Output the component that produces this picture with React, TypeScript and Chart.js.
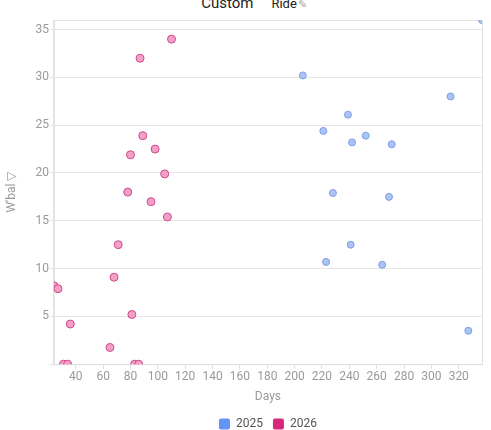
import React, { useEffect, useRef } from "react";
import { Chart, registerables } from "chart.js";

Chart.register(...registerables);

// 2025 series: days vs W'bal
const days2025 = [206, 314, 239, 221, 252, 242, 271, 228, 269, 241, 223, 264, 327, 337];
const wbal2025 = [30.2, 28.0, 26.1, 24.4, 23.9, 23.2, 23.0, 17.9, 17.5, 12.5, 10.7, 10.4, 3.5, 36.0];

// 2026 series
const days2026 = [110, 87, 89, 98, 80, 105, 78, 95, 107, 71, 68, 24, 27, 81, 36, 65, 31, 34, 83, 86];
const wbal2026 = [34.0, 32.0, 23.9, 22.5, 21.9, 19.9, 18.0, 17.0, 15.4, 12.5, 9.1, 8.2, 7.9, 5.2, 4.2, 1.75, 0, 0, 0, 0];

const seriesLabels = ["2025", "2026"];
const legendColors = ["#6494f4", "#d7287c"];

const toPoints = (xs: number[], ys: number[]) => xs.map((x, i) => ({ x, y: ys[i] }));

const allDays = [...days2025, ...days2026];
const allWbal = [...wbal2025, ...wbal2026];

// draws the light frame round the plot area (top/right sides too)
const framePlugin = {
  id: "frame",
  beforeDatasetsDraw(chart: any) {
    const { ctx, chartArea } = chart;
    ctx.save();
    ctx.strokeStyle = "#e2e2e2";
    ctx.lineWidth = 1;
    ctx.strokeRect(chartArea.left + 0.5, chartArea.top + 0.5, chartArea.right - chartArea.left, chartArea.bottom - chartArea.top);
    ctx.restore();
  },
};

const ScatterChart: React.FC = () => {
  const canvasRef = useRef<HTMLCanvasElement | null>(null);
  const chartRef = useRef<Chart | null>(null);

  useEffect(() => {
    if (chartRef.current) chartRef.current.destroy();
    if (!canvasRef.current) return;

    chartRef.current = new Chart(canvasRef.current, {
      type: "scatter",
      data: {
        datasets: [
          {
            label: seriesLabels[0],
            data: toPoints(days2025, wbal2025),
            backgroundColor: "#abc3f5",
            borderColor: "#7d9ee6",
            borderWidth: 1,
            pointRadius: 3.5,
          },
          {
            label: seriesLabels[1],
            data: toPoints(days2026, wbal2026),
            backgroundColor: "#f3a0c8",
            borderColor: "#cf4a8a",
            borderWidth: 1,
            pointRadius: 4,
          },
        ],
      },
      options: {
        animation: false,
        responsive: true,
        maintainAspectRatio: false,
        layout: { padding: { top: 20, right: 9, left: 5, bottom: -10 } },
        scales: {
          x: {
            type: "linear",
            min: Math.min(...allDays),
            max: Math.max(...allDays),
            ticks: {
              stepSize: 20,
              includeBounds: false,
              color: "#9a9a9a",
              font: { family: "Roboto", size: 12 },
              padding: 1,
              maxRotation: 0,
              autoSkip: false,
            },
            grid: { drawOnChartArea: false, tickLength: 5, color: "#e2e2e2" },
            border: { color: "#e2e2e2" },
            title: {
              display: true,
              text: "Days",
              color: "#9a9a9a",
              font: { family: "Roboto", size: 12 },
              padding: { top: 4, bottom: 4 },
            },
          },
          y: {
            min: 0,
            max: Math.max(...allWbal),
            ticks: {
              stepSize: 5,
              includeBounds: false,
              color: "#9a9a9a",
              font: { family: "Roboto", size: 12 },
              padding: 1,
              callback: (v: any) => (v === 0 ? "" : String(v)),
            },
            grid: { color: "#e6e6e6", tickLength: 4 },
            border: { color: "#e2e2e2" },
            title: {
              display: true,
              text: "W'bal \u25BD",
              color: "#9a9a9a",
              font: { family: "Roboto", size: 12 },
              padding: { top: 0, bottom: 15 },
            },
          },
        },
        plugins: {
          legend: {
            position: "bottom",
            fullSize: false,
            labels: {
              boxWidth: 11,
              boxHeight: 11,
              useBorderRadius: true,
              borderRadius: 2,
              color: "#555",
              font: { family: "Roboto", size: 12 },
              padding: 10,
              generateLabels: (chart: any) =>
                chart.data.datasets.map((ds: any, i: number) => ({
                  text: ds.label,
                  fillStyle: legendColors[i],
                  strokeStyle: legendColors[i],
                  lineWidth: 0,
                  hidden: false,
                  datasetIndex: i,
                  borderRadius: 2,
                  fontColor: "#555",
                })),
            },
          },
          tooltip: { enabled: false },
        },
      },
      plugins: [framePlugin],
    });

    return () => {
      if (chartRef.current) chartRef.current.destroy();
    };
  }, []);

  return <canvas ref={canvasRef} />;
};

export default function App() {
  return (
    <div style={{ position: "fixed", left: 0, top: 0, width: 491, height: 430, background: "#fff", overflow: "hidden" }}>
      <div
        style={{
          position: "absolute",
          top: -5,
          left: 0,
          width: "100%",
          textAlign: "center",
          fontFamily: "Roboto",
          color: "#222",
          whiteSpace: "nowrap",
          lineHeight: "16px",
        }}
      >
        <span style={{ fontSize: 15, marginRight: 18, position: "relative", left: 8 }}>Custom</span>
        <span style={{ fontSize: 13, position: "relative", left: 8 }}>Ride</span>
        <span style={{ fontSize: 11, color: "#aaa", position: "relative", left: 9 }}>{"\u270E"}</span>
      </div>
      <div style={{ position: "absolute", left: 0, top: 0, width: 491, height: 430 }}>
        <ScatterChart />
      </div>
    </div>
  );
}
